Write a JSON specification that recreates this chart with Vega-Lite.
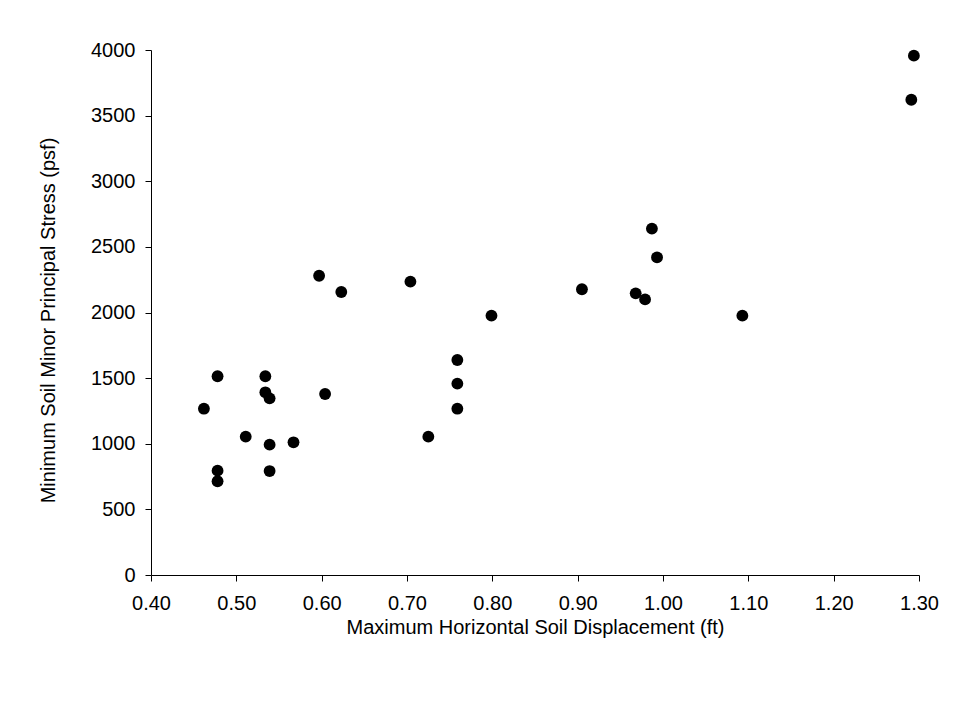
{
  "$schema": "https://vega.github.io/schema/vega-lite/v6.json",
  "width": 768,
  "height": 525,
  "autosize": "none",
  "padding": {"left": 151, "top": 50, "right": 39, "bottom": 131},
  "background": "white",
  "config": {
    "view": {"stroke": null},
    "font": "Liberation Sans",
    "axis": {
      "grid": false,
      "domainColor": "#000000",
      "domainWidth": 1,
      "tickColor": "#000000",
      "tickWidth": 1,
      "tickSize": 6,
      "labelFont": "Liberation Sans",
      "labelFontSize": 20,
      "labelColor": "#000000",
      "labelFlush": false,
      "labelOverlap": false,
      "titleFont": "Liberation Sans",
      "titleFontSize": 20,
      "titleFontWeight": "normal",
      "titleColor": "#000000"
    }
  },
  "data": {
    "values": [
      {"displacement": 0.462, "stress": 1267},
      {"displacement": 0.478, "stress": 1514},
      {"displacement": 0.478, "stress": 795},
      {"displacement": 0.478, "stress": 714},
      {"displacement": 0.511, "stress": 1054},
      {"displacement": 0.534, "stress": 1514},
      {"displacement": 0.534, "stress": 1392},
      {"displacement": 0.539, "stress": 1346},
      {"displacement": 0.539, "stress": 993},
      {"displacement": 0.539, "stress": 792},
      {"displacement": 0.567, "stress": 1011},
      {"displacement": 0.597, "stress": 2280},
      {"displacement": 0.623, "stress": 2156},
      {"displacement": 0.604, "stress": 1379},
      {"displacement": 0.704, "stress": 2235},
      {"displacement": 0.725, "stress": 1054},
      {"displacement": 0.759, "stress": 1638},
      {"displacement": 0.759, "stress": 1458},
      {"displacement": 0.759, "stress": 1267},
      {"displacement": 0.799, "stress": 1976},
      {"displacement": 0.905, "stress": 2177},
      {"displacement": 0.968, "stress": 2146},
      {"displacement": 0.979, "stress": 2100},
      {"displacement": 0.987, "stress": 2639},
      {"displacement": 0.993, "stress": 2420},
      {"displacement": 1.093, "stress": 1976},
      {"displacement": 1.291, "stress": 3621},
      {"displacement": 1.294, "stress": 3957}
    ]
  },
  "mark": {"type": "circle", "size": 140, "color": "#000000", "opacity": 1},
  "encoding": {
    "x": {
      "field": "displacement",
      "type": "quantitative",
      "scale": {"domain": [0.4, 1.3], "nice": false, "zero": false},
      "axis": {
        "title": "Maximum Horizontal Soil Displacement (ft)",
        "values": [0.4, 0.5, 0.6, 0.7, 0.8, 0.9, 1.0, 1.1, 1.2, 1.3],
        "format": ".2f",
        "labelPadding": 12,
        "titleBaseline": "alphabetic",
        "titleY": 58
      }
    },
    "y": {
      "field": "stress",
      "type": "quantitative",
      "scale": {"domain": [0, 4000], "nice": false},
      "axis": {
        "title": "Minimum Soil Minor Principal Stress (psf)",
        "values": [0, 500, 1000, 1500, 2000, 2500, 3000, 3500, 4000],
        "format": "d",
        "labelPadding": 10,
        "titleBaseline": "alphabetic",
        "titleX": -97,
        "titleY": 270
      }
    }
  }
}
